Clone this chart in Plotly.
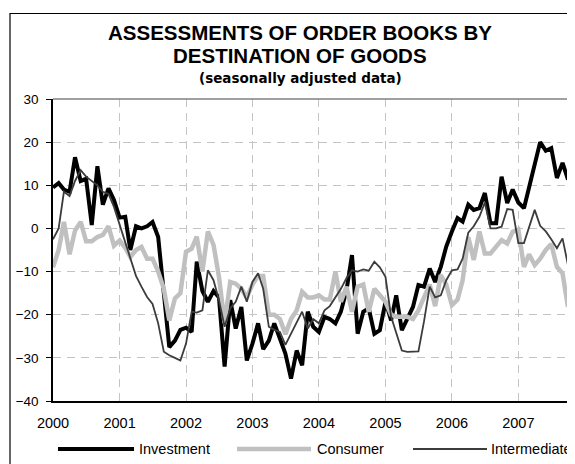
import pandas as pd
import plotly.graph_objects as go

# ---------------- data (monthly, Jan 2000 - Oct 2007) ----------------
months = pd.date_range("2000-01-01", "2007-10-01", freq="MS")

investment = [
    9.5, 10.5, 9, 8.5, 16.5, 11, 11.5, 0.8, 14.4, 5.5,
    9.3, 6.6, 2.5, 2.7, -5, 0.5, 0, 0.5, 1.5, -2,
    -15, -27.5, -26, -23.5, -23, -24, -7.7, -14.5, -17, -14.5,
    -16, -32, -16.6, -23.2, -18.2, -30.6, -26.7, -22, -28, -26,
    -22, -25.5, -29, -34.8, -28.3, -31.7, -19.3, -22.8, -24, -20.5,
    -21, -22, -19.3, -14.3, -6.2, -24.4, -19.3, -18.5, -24.4, -23.6,
    -17, -21.3, -15.5, -23.6, -21, -18.2, -13.1, -13.5, -9.3, -12.4,
    -8.9, -4.2, -0.7, 2.4, 1.6, 5.5, 4.3, 4.7, 8.2, 1.2,
    1.2, 12, 5.9, 9, 6, 4.7, 9.5, 15, 20, 18,
    18.6, 11.7, 15.2, 11.3,
]

consumer = [
    -9, -5, 1.5, -6, -0.5, 1.5, -3, -3, -2, -1.5,
    0.5, -4, -2.8, -4.5, -6.6, -5, -4.3, -7, -7, -10,
    -14, -21.3, -16.2, -15, -5.4, -4.7, -1.9, -10, -0.7, -3.8,
    -11.2, -22, -12.4, -12.8, -14, -16, -13, -11, -11, -20,
    -20, -21, -24.5, -21, -19, -14.7, -16, -16, -15.5, -16.5,
    -16.5, -10, -17, -13.5, -19.3, -13.5, -13, -19.3, -14, -15.5,
    -17, -20, -20.5, -20.5, -20.5, -21, -19, -16, -13, -18,
    -10.8, -13, -17.8, -16.5, -12, -2, -7.3, -0.7, -5.8, -5.8,
    -4, -2.7, -3.5, -0.8, -0.3, -8.9, -6, -8.5, -7, -5,
    -3.6, -8.9, -10.4, -18.2,
]

intermediate = [
    -2.5, 0, 8.5, 7.5, 11, 13.5, 12, 11, 10, 8.5,
    8, 5, 1, -3, -7, -11, -13.5, -15.9, -17.5, -22,
    -28.6, -29.4, -30, -30.6, -26.7, -19.3, -19.5, -19, -9.7, -12,
    -16.6, -22.8, -18.5, -17, -13.5, -17, -12.4, -10.4, -14, -22.8,
    -23.5, -24, -27, -24.5, -21.7, -19.3, -23.2, -21, -22, -19,
    -18, -16, -14, -11.5, -9.7, -10, -9.5, -9.8, -7.7, -9,
    -11.2, -20.5, -24.4, -28.3, -28.6, -28.6, -28.5, -21.5, -13.5, -16,
    -15.5, -12, -9.7, -9.5, -7, -1, 0.5, 2.7, 6, 0,
    0, 0.4, 4.5, 4.3, -3.4, -3.4, 0.4, 4.3, 0.6, -0.7,
    -2.5, -4.6, -2.3, -8.5,
]

series_names = ["Investment", "Consumer", "Intermediate"]
year_ticks = [str(y) for y in range(2000, 2008)]
y_ticks = [30, 20, 10, 0, -10, -20, -30, -40]

title_lines = ["ASSESSMENTS OF ORDER BOOKS BY", "DESTINATION OF GOODS"]
subtitle = "(seasonally adjusted data)"

# ---------------- geometry ----------------
# page body has an 8px margin, so the figure is laid out 8px up/left
OFF = 8
W, H = 575 - OFF, 464 - OFF
ML = 53 - OFF
MT = 99 - OFF
MR = 575 - 568
MB = 464 - 401
PW, PH = W - ML - MR, H - MT - MB


def px_x(sx):  # screen x -> paper
    return (sx - OFF - ML) / PW


def px_y(sy):  # screen y -> paper
    return (H - MB - (sy - OFF)) / PH


styles = {
    "Investment": dict(color="#000000", width=4),
    "Consumer": dict(color="#c0c0c0", width=4.5),
    "Intermediate": dict(color="#3c3c3c", width=1.8),
}
values = {"Investment": investment, "Consumer": consumer, "Intermediate": intermediate}

fig = go.Figure()
for name in series_names:
    fig.add_trace(go.Scatter(
        x=months, y=values[name], mode="lines", name=name,
        line=dict(color=styles[name]["color"], width=styles[name]["width"]),
        showlegend=False,
    ))

FONT = "Liberation Sans, Arial, sans-serif"

fig.update_layout(
    width=W, height=H,
    margin=dict(l=ML, r=MR, t=MT, b=MB, pad=0),
    paper_bgcolor="white", plot_bgcolor="white",
    font=dict(family=FONT, color="black", size=13),
    showlegend=False,
)

fig.update_xaxes(
    type="date",
    range=[months[0], months[-1]],
    tickvals=[pd.Timestamp(f"{y}-01-01") for y in year_ticks],
    ticktext=year_ticks,
    showgrid=True, gridcolor="#c4c4c4", gridwidth=1, griddash="8px,6px",
    showline=True, linecolor="black", linewidth=1.5,
    ticks="", ticklabelstandoff=8,
    tickfont=dict(size=14.5, family=FONT, color="black"),
    zeroline=False, fixedrange=True,
)
fig.update_yaxes(
    range=[-40, 30], tickvals=y_ticks,
    showgrid=True, gridcolor="#c4c4c4", gridwidth=1, griddash="8px,6px",
    showline=True, linecolor="black", linewidth=1.5,
    ticks="outside", ticklen=5, tickcolor="black", tickwidth=1,
    ticklabelstandoff=5,
    tickfont=dict(size=13.5, family=FONT, color="black"),
    zeroline=False, fixedrange=True,
)

shapes = []
# solid top border of plot area (at 30)
shapes.append(dict(type="line", xref="paper", yref="paper", x0=0, x1=1, y0=1, y1=1,
                   line=dict(color="#808080", width=1.5)))
# outer chart frame
shapes.append(dict(type="rect", xref="paper", yref="paper",
                   x0=px_x(10), x1=px_x(572.5), y0=px_y(490), y1=px_y(13.5),
                   line=dict(color="black", width=1.2), fillcolor="rgba(0,0,0,0)",
                   layer="above"))

annotations = []
# title
for txt, sy, sz, fam in [(title_lines[0], 32.5, 20.5, FONT),
                         (title_lines[1], 55.5, 20.5, FONT),
                         (subtitle, 78, 13.5, "DejaVu Sans, sans-serif")]:
    annotations.append(dict(text=f"<b>{txt}</b>", xref="paper", yref="paper",
                            x=px_x(300), y=px_y(sy), xanchor="center", yanchor="middle",
                            showarrow=False, font=dict(family=fam, size=sz, color="black")))

# legend (manual, to match long line samples)
leg_y = 449
leg_items = [
    ("Investment", 58, 134, 137),
    ("Consumer", 237, 311, 315),
    ("Intermediate", 413, 487, 489),
]
for name, x0, x1, tx in leg_items:
    shapes.append(dict(type="line", xref="paper", yref="paper",
                       x0=px_x(x0), x1=px_x(x1), y0=px_y(leg_y), y1=px_y(leg_y),
                       line=dict(color=styles[name]["color"], width=styles[name]["width"])))
    annotations.append(dict(text=name, xref="paper", yref="paper",
                            x=px_x(tx), y=px_y(leg_y), xanchor="left", yanchor="middle",
                            showarrow=False, font=dict(family=FONT, size=14.5, color="black")))

fig.update_layout(shapes=shapes, annotations=annotations)

fig.write_html("out.html")
